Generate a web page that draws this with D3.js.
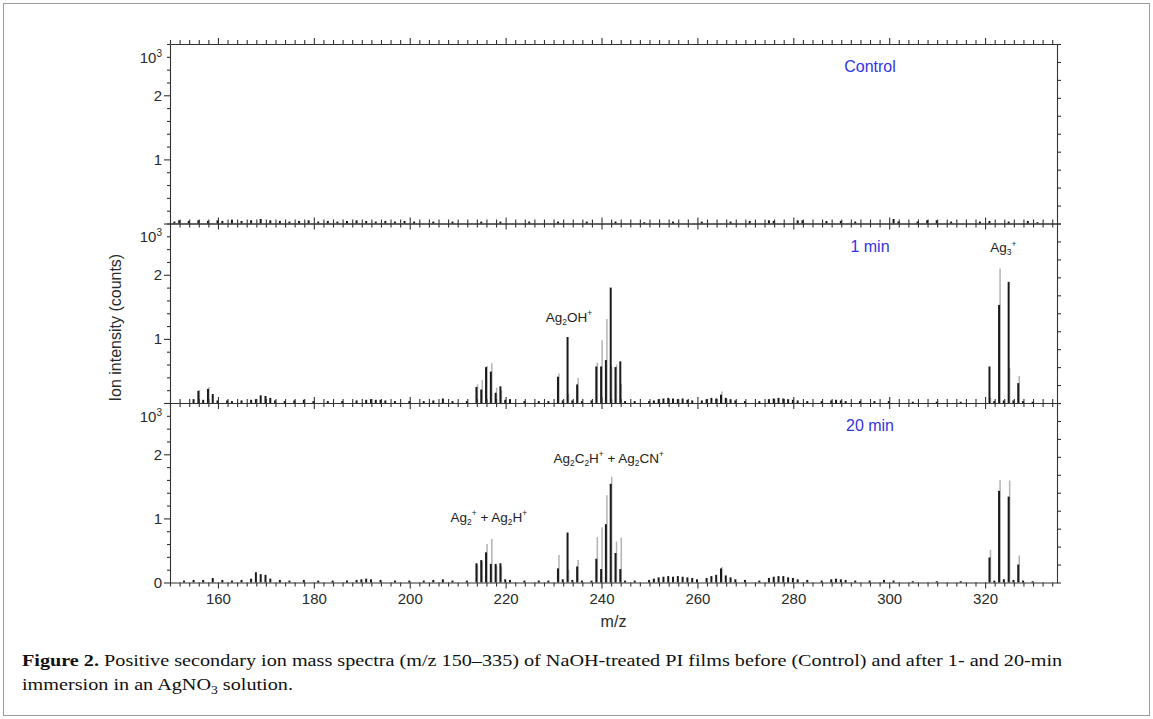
<!DOCTYPE html>
<html><head><meta charset="utf-8">
<script src="https://cdn.jsdelivr.net/npm/d3@7"></script>
<style>body{margin:0;background:#fff}svg{display:block}</style>
</head><body><svg id="c" width="1153" height="719"></svg>
<script>
// ---------- data (m/z, intensity in 10^3 counts) ----------
const panelNames = ["Control", "1 min", "20 min"];
const xTickLabels = [160, 180, 200, 220, 240, 260, 280, 300, 320];
const yTickLabels = [0, 1, 2];

const ctrlMz    = [151,152,154,156,158,160,161,163,165,167,169,171,173,175,177,179,181,183,185,187,189,191,193,195,197,199,201,205,209,215,219,225,231,237,243,249,255,261,267,271,275,276,281,282,287,290,293,301,302,306,308,310,313,319,321,325,329,331];
const ctrlBlack = [0.03,0.05,0.04,0.05,0.04,0.05,0.04,0.06,0.04,0.05,0.07,0.05,0.04,0.03,0.04,0.05,0.03,0.04,0.03,0.04,0.05,0.04,0.03,0.04,0.03,0.04,0.03,0.03,0.03,0.03,0.03,0.03,0.03,0.03,0.03,0.02,0.03,0.03,0.03,0.04,0.05,0.04,0.05,0.05,0.04,0.04,0.03,0.07,0.03,0.03,0.05,0.05,0.03,0.03,0.04,0.03,0.04,0.02];

const min1Mz    = [155,156,157,158,159,160,162,163,165,167,168,169,170,171,172,174,176,178,180,183,186,189,191,192,193,194,195,197,200,203,205,207,209,212,214,215,216,217,218,219,220,221,224,227,229,231,232,233,234,235,236,238,239,240,241,242,243,244,245,247,250,251,252,253,254,255,256,257,258,259,261,262,263,264,265,266,267,268,270,273,275,276,277,278,279,280,281,283,286,288,289,290,291,294,297,300,305,310,315,321,322,323,324,325,326,327,328,330];
const min1Black = [0.06,0.19,0.05,0.22,0.14,0.04,0.04,0.03,0.04,0.05,0.06,0.12,0.11,0.08,0.04,0.03,0.04,0.05,0.03,0.03,0.03,0.04,0.05,0.06,0.05,0.05,0.04,0.03,0.03,0.03,0.04,0.07,0.03,0.03,0.25,0.21,0.56,0.49,0.16,0.26,0.05,0.06,0.03,0.03,0.03,0.41,0.04,1.03,0.04,0.29,0.03,0.04,0.57,0.57,0.67,1.80,0.56,0.65,0.03,0.03,0.03,0.04,0.06,0.07,0.08,0.07,0.06,0.07,0.05,0.04,0.04,0.06,0.08,0.07,0.13,0.08,0.06,0.04,0.03,0.03,0.06,0.07,0.08,0.07,0.06,0.05,0.04,0.03,0.03,0.04,0.05,0.04,0.03,0.03,0.03,0.03,0.02,0.02,0.02,0.57,0.03,1.53,0.04,1.89,0.04,0.31,0.03,0.02];
const min1GrayMz = [156,158,214,215,216,217,218,219,231,233,235,239,240,241,242,243,244,265,321,323,325,327];
const min1Gray   = [0.20,0.25,0.29,0.36,0.58,0.62,0.24,0.20,0.46,0.15,0.39,0.63,0.98,1.31,0.57,0.60,0.30,0.18,0.08,2.10,0.55,0.42];

const min20Mz    = [153,155,157,159,161,163,165,167,168,169,170,171,173,175,178,181,184,187,189,190,191,192,194,197,200,203,205,207,209,212,214,215,216,217,218,219,220,221,224,227,229,231,232,233,234,235,236,238,239,240,241,242,243,244,245,247,250,251,252,253,254,255,256,257,258,259,260,262,263,264,265,266,267,268,270,273,275,276,277,278,279,280,281,283,286,288,289,290,291,293,296,299,301,305,310,315,321,322,323,324,325,326,327,328,330];
const min20Black = [0.03,0.04,0.04,0.07,0.04,0.03,0.04,0.06,0.16,0.13,0.12,0.06,0.04,0.03,0.04,0.03,0.03,0.03,0.04,0.05,0.06,0.05,0.04,0.03,0.03,0.03,0.04,0.05,0.03,0.03,0.30,0.35,0.47,0.29,0.29,0.30,0.05,0.04,0.03,0.03,0.03,0.22,0.05,0.78,0.04,0.25,0.03,0.03,0.37,0.21,0.91,1.54,0.46,0.21,0.03,0.03,0.04,0.06,0.08,0.09,0.10,0.09,0.10,0.09,0.08,0.07,0.05,0.07,0.10,0.12,0.22,0.11,0.08,0.05,0.04,0.03,0.07,0.09,0.10,0.10,0.08,0.07,0.05,0.04,0.03,0.05,0.06,0.05,0.04,0.03,0.03,0.04,0.03,0.02,0.02,0.02,0.39,0.03,1.43,0.05,1.34,0.04,0.28,0.03,0.02];
const min20GrayMz = [214,215,216,217,218,219,231,233,235,239,240,241,242,243,244,265,321,323,325,327];
const min20Gray   = [0.28,0.33,0.60,0.68,0.26,0.25,0.43,0.20,0.35,0.71,0.86,1.36,1.65,0.64,0.70,0.24,0.51,1.60,1.59,0.42];

const annotations = [
  {panel:1, mz:233.2, val:1.27, parts:[["Ag"],["2","sub"],["OH"],["+","sup"]]},
  {panel:1, mz:323.8, val:2.36, parts:[["Ag"],["3","sub"],["+","sup"]]},
  {panel:2, mz:216.5, val:0.95, parts:[["Ag"],["2","sub"],["+","sup"],[" + Ag"],["2","sub"],["H"],["+","sup"]]},
  {panel:2, mz:241.5, val:1.87, parts:[["Ag"],["2","sub"],["C"],["2","sub"],["H"],["+","sup"],[" + Ag"],["2","sub"],["CN"],["+","sup"]]}
];

const panels = [
  {name: panelNames[0], mz: ctrlMz, black: ctrlBlack, gmz: [], gray: []},
  {name: panelNames[1], mz: min1Mz, black: min1Black, gmz: min1GrayMz, gray: min1Gray},
  {name: panelNames[2], mz: min20Mz, black: min20Black, gmz: min20GrayMz, gray: min20Gray}
];

// ---------- layout ----------
const svg = d3.select("#c");
const L = 170, R = 1057, T = 44, PH = 179.5;
const font = "'Liberation Sans', Arial, sans-serif";
const x = d3.scaleLinear().domain([150, 335]).range([L, R]);
const axisCol = "#333";

svg.append("rect").attr("x",3.5).attr("y",3.5).attr("width",1146).attr("height",712)
  .attr("fill","none").attr("stroke","#9a9a9a").attr("stroke-width",1);

function richText(g, parts, size){
  let cur = 0;
  parts.forEach(p=>{
    const type = p[1];
    const target = type==="sub" ? size*0.28 : type==="sup" ? -size*0.38 : 0;
    g.append("tspan").attr("dy", target-cur)
      .attr("font-size", type ? size*0.62 : size).text(p[0]);
    cur = target;
  });
}

const minorX = d3.range(150, 336, 2);
panels.forEach((p, i)=>{
  const top = T + i*PH, bot = top + PH;
  const y = d3.scaleLinear().domain([0, 2.8]).range([bot, top]);
  const g = svg.append("g");

  // gray sticks
  g.selectAll("line.gr").data(d3.zip(p.gmz, p.gray)).join("line")
    .attr("x1", d=>x(d[0])+0.6).attr("x2", d=>x(d[0])+0.6)
    .attr("y1", y(0)).attr("y2", d=>y(d[1]))
    .attr("stroke","#b3b3b3").attr("stroke-width",1.5);
  // black sticks
  g.selectAll("line.bl").data(d3.zip(p.mz, p.black)).join("line")
    .attr("x1", d=>x(d[0])-0.4).attr("x2", d=>x(d[0])-0.4)
    .attr("y1", y(0)).attr("y2", d=>y(d[1]))
    .attr("stroke","#1a1a1a").attr("stroke-width",2);

  // axes
  const major = v => v % 20 === 0;
  const topAx = d3.axisTop(x).tickValues(minorX).tickFormat("").tickSizeOuter(0);
  const gt = g.append("g").attr("transform",`translate(0,${top})`).call(topAx);
  gt.selectAll(".tick line").attr("y2", d=>major(d)?-6:-4);
  const botAx = d3.axisBottom(x).tickValues(minorX).tickFormat("").tickSizeOuter(0);
  const gb = g.append("g").attr("transform",`translate(0,${bot})`).call(botAx);
  gb.selectAll(".tick line").attr("y2", d=>major(d)?6:4);
  if (i === 2){
    g.append("g").attr("transform",`translate(0,${bot})`)
      .call(d3.axisBottom(x).tickValues(xTickLabels).tickSize(0).tickPadding(11))
      .call(a=>a.select(".domain").remove())
      .selectAll("text").attr("font-size",15).attr("font-family",font).attr("fill","#2a2a2a");
  }
  const yMinor = d3.range(0, 2.81, 0.2).map(v=>+v.toFixed(1));
  const gl = g.append("g").attr("transform",`translate(${L},0)`)
    .call(d3.axisLeft(y).tickValues(yMinor).tickFormat("").tickSizeOuter(0));
  gl.selectAll(".tick line").attr("x2", d=>Number.isInteger(d)?-6:-3);
  const gr = g.append("g").attr("transform",`translate(${R},0)`)
    .call(d3.axisRight(y).tickValues(d3.range(0,11).map(k=>k*0.28)).tickFormat("").tickSize(4).tickSizeOuter(0));
  [gt,gb,gl,gr].forEach(a=>{a.selectAll("path,line").attr("stroke",axisCol).attr("stroke-width",1.1);});

  // y labels
  const labs = i===2 ? yTickLabels : yTickLabels.filter(v=>v>0);
  labs.forEach(v=>{
    g.append("text").attr("x",L-8).attr("y",y(v)).attr("dy","0.35em")
      .attr("text-anchor","end").attr("font-size",15).attr("font-family",font).attr("fill","#2a2a2a").text(v);
  });
  const e = g.append("text").attr("x",L-8).attr("y",y(2.6)+6).attr("text-anchor","end")
    .attr("font-size",15).attr("font-family",font).attr("fill","#2a2a2a");
  e.append("tspan").text("10");
  e.append("tspan").attr("dy",-6).attr("font-size",10).text("3");

  // panel name
  g.append("text").attr("x",x(296)).attr("y",y(2.45)).attr("dy","0.35em").attr("text-anchor","middle")
    .attr("font-size",16).attr("font-family",font).attr("fill","#3333e6").text(p.name);

  annotations.filter(a=>a.panel===i).forEach(a=>{
    const t = g.append("text").attr("x",x(a.mz)).attr("y",y(a.val)).attr("text-anchor","middle")
      .attr("font-family",font).attr("fill","#222").attr("font-size",13.5);
    richText(t, a.parts, 13.5);
  });
});

// axis titles
svg.append("text").attr("x", (L+R)/2).attr("y", 627).attr("text-anchor","middle")
  .attr("font-size",16).attr("font-family",font).attr("fill","#2a2a2a").text("m/z");
svg.append("text").attr("transform",`translate(121,${T+PH*1.58}) rotate(-90)`).attr("text-anchor","middle")
  .attr("font-size",16).attr("font-family",font).attr("fill","#2a2a2a").text("Ion intensity (counts)");

// caption
const serif = "'Liberation Serif', 'Times New Roman', serif";
const c1 = svg.append("text").attr("font-family",serif).attr("font-size",17).attr("fill","#111");
c1.append("tspan").attr("font-weight","bold").text("Figure 2.");
c1.append("tspan").text(" Positive secondary ion mass spectra (m/z 150\u2013335) of NaOH-treated PI films before (Control) and after 1- and 20-min");
const w1 = c1.node().getComputedTextLength();
const k = (1063-22)/w1;
c1.attr("transform",`translate(22,666) scale(${k},1)`);
const c2 = svg.append("text").attr("font-family",serif).attr("font-size",17).attr("fill","#111")
  .attr("transform",`translate(22,690) scale(${k},1)`);
c2.append("tspan").text("immersion in an AgNO");
c2.append("tspan").attr("dy",4).attr("font-size",11.5).text("3");
c2.append("tspan").attr("dy",-4).text(" solution.");
</script></body></html>
